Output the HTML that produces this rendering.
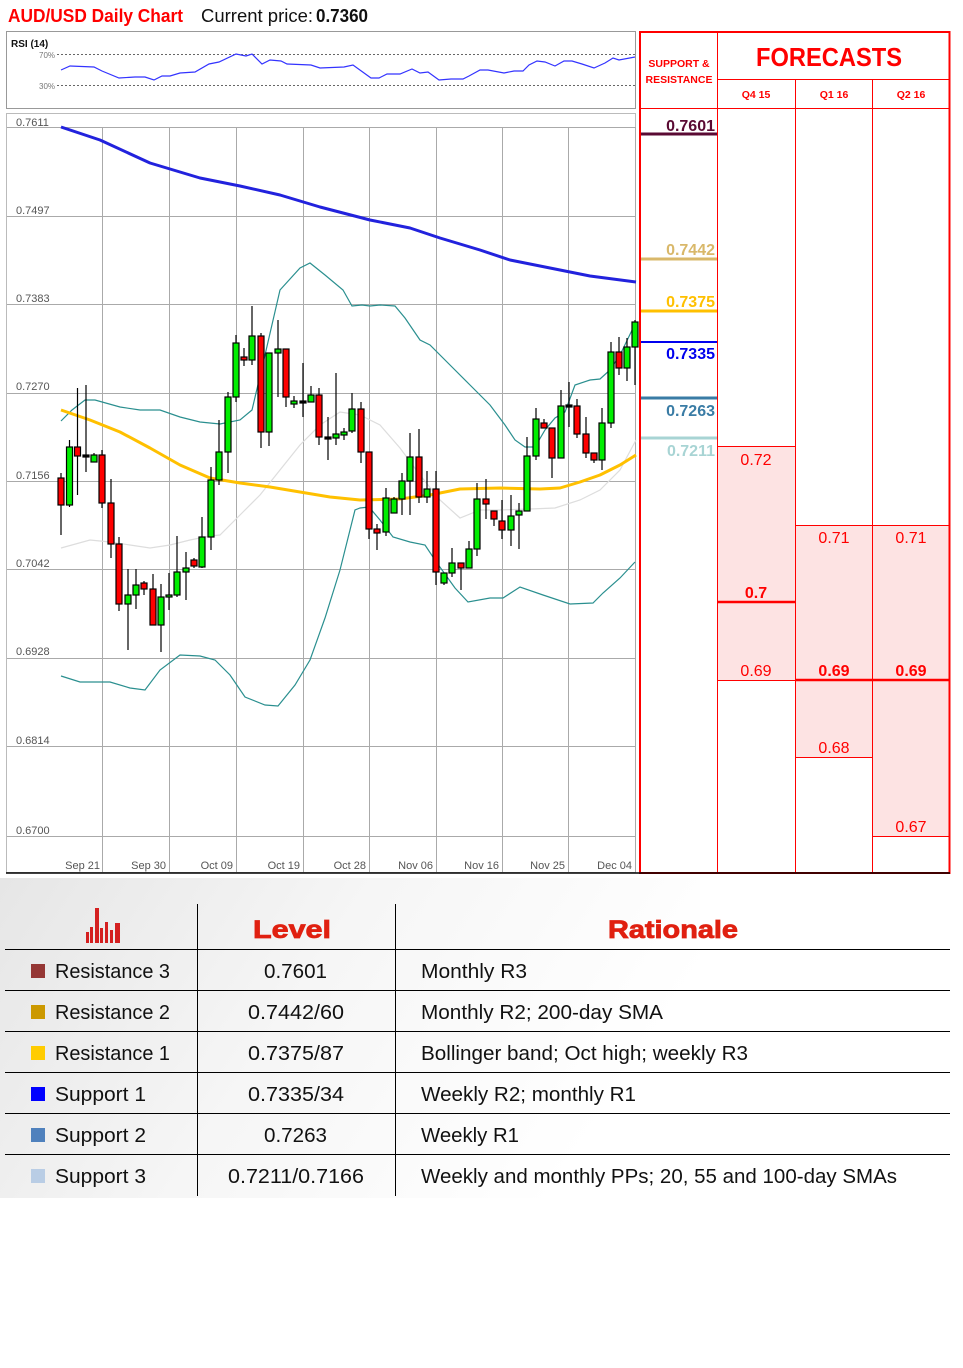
<!DOCTYPE html>
<html><head><meta charset="utf-8"><style>
html,body{margin:0;padding:0;background:#fff;width:963px;height:1368px;overflow:hidden}
svg{display:block}
text{font-family:"Liberation Sans",sans-serif}
</style></head><body>
<svg width="963" height="1368" viewBox="0 0 963 1368" xmlns="http://www.w3.org/2000/svg">
<defs>
<linearGradient id="bg" x1="0" y1="0" x2="1" y2="0.3">
<stop offset="0" stop-color="#e6e6e6"/><stop offset="0.5" stop-color="#f6f6f6"/><stop offset="1" stop-color="#ffffff"/>
</linearGradient>
</defs>
<!-- title -->
<text x="8" y="22" font-size="18" font-weight="bold" fill="#ff0000" textLength="175" lengthAdjust="spacingAndGlyphs">AUD/USD Daily Chart</text>
<text x="201" y="22" font-size="18" fill="#111" textLength="112" lengthAdjust="spacingAndGlyphs">Current price:</text>
<text x="316" y="22" font-size="18" font-weight="bold" fill="#111" textLength="52" lengthAdjust="spacingAndGlyphs">0.7360</text>

<!-- RSI box -->
<rect x="6.5" y="31.5" width="629" height="77" fill="#fff" stroke="#999"/>
<text x="11" y="47" font-size="10" font-weight="bold" fill="#111">RSI (14)</text>
<line x1="57" y1="54.5" x2="635" y2="54.5" stroke="#666" stroke-dasharray="2,2"/>
<line x1="57" y1="85.5" x2="635" y2="85.5" stroke="#666" stroke-dasharray="2,2"/>
<text x="39" y="58" font-size="8" fill="#777">70%</text>
<text x="39" y="89" font-size="8" fill="#777">30%</text>
<polyline fill="none" stroke="#3333ff" stroke-width="1.2" points="61,70 70,66 94,67 102,71 119,78 135,77 145,77 154,80 162,76 170,76 180,73 195,72 209,64 219,62 236,54 246,56 252,54 262,64 270,60 281,61 287,64 311,65 320,68 344,67 353,65 371,78 379,78 387,74 400,74 412,69 420,73 428,72 439,80 451,79 463,79 469,76 480,70 488,70 504,73 514,71 523,71 529,65 537,61 545,62 555,66 564,61 572,61 582,64 594,68 605,63 613,58 619,60 635,57"/>

<!-- price chart -->
<rect x="6.5" y="113.5" width="629" height="759" fill="#fff" stroke="#bbb"/>
<g stroke="#aaa" stroke-width="1">
<line x1="7" y1="127.5" x2="636" y2="127.5"/><line x1="7" y1="216.5" x2="636" y2="216.5"/>
<line x1="7" y1="304.5" x2="636" y2="304.5"/><line x1="7" y1="393.5" x2="636" y2="393.5"/>
<line x1="7" y1="481.5" x2="636" y2="481.5"/><line x1="7" y1="569.5" x2="636" y2="569.5"/>
<line x1="7" y1="658.5" x2="636" y2="658.5"/><line x1="7" y1="746.5" x2="636" y2="746.5"/>
<line x1="7" y1="836.5" x2="636" y2="836.5"/>
<line x1="102.5" y1="127" x2="102.5" y2="872"/><line x1="169.5" y1="127" x2="169.5" y2="872"/>
<line x1="236.5" y1="127" x2="236.5" y2="872"/><line x1="303.5" y1="127" x2="303.5" y2="872"/>
<line x1="369.5" y1="127" x2="369.5" y2="872"/><line x1="436.5" y1="127" x2="436.5" y2="872"/>
<line x1="502.5" y1="127" x2="502.5" y2="872"/><line x1="568.5" y1="127" x2="568.5" y2="872"/>
<line x1="635.5" y1="127" x2="635.5" y2="872"/>
</g>
<g font-size="11" fill="#555">
<text x="16" y="126">0.7611</text><text x="16" y="214">0.7497</text><text x="16" y="302">0.7383</text>
<text x="16" y="390">0.7270</text><text x="16" y="479">0.7156</text><text x="16" y="567">0.7042</text>
<text x="16" y="655">0.6928</text><text x="16" y="744">0.6814</text><text x="16" y="834">0.6700</text>
</g>
<g font-size="11" fill="#555" text-anchor="end">
<text x="100" y="869">Sep 21</text><text x="166" y="869">Sep 30</text><text x="233" y="869">Oct 09</text>
<text x="300" y="869">Oct 19</text><text x="366" y="869">Oct 28</text><text x="433" y="869">Nov 06</text>
<text x="499" y="869">Nov 16</text><text x="565" y="869">Nov 25</text><text x="632" y="869">Dec 04</text>
</g>

<!-- middle band -->
<polyline fill="none" stroke="#ddd" stroke-width="1.2" points="61,548 90,540 110,542 130,545 150,548 170,545 190,540 210,536 220,535 240,515 260,495 280,470 300,445 320,425 340,412 360,415 380,425 400,448 420,475 440,500 460,518 480,510 500,510 530,509 555,508 580,500 600,490 620,470 636,440"/>
<!-- bollinger upper -->
<polyline fill="none" stroke="#2a8f8f" stroke-width="1.2" points="61,421 72,410 85,400 95,400 120,407 140,410 160,410 180,417 200,422 220,424 240,420 252,410 265,355 280,290 300,268 310,263 325,275 343,290 352,306 362,305 370,306 380,305 395,306 405,318 420,340 430,345 450,365 470,385 490,405 505,425 515,440 525,447 535,447 545,430 555,418 565,412 575,385 590,380 600,379 610,370 620,355 636,322"/>
<!-- bollinger lower -->
<polyline fill="none" stroke="#2a8f8f" stroke-width="1.2" points="61,676 80,682 110,682 130,688 145,690 160,670 180,655 200,656 215,660 230,675 245,697 265,705 278,706 295,685 310,660 325,618 340,570 355,510 360,508 369,507 380,520 393,537 410,542 425,545 437,563 455,588 468,602 490,598 503,598 520,587 543,595 570,604 593,603 603,593 620,578 635,562"/>
<!-- yellow SMA -->
<polyline fill="none" stroke="#ffc000" stroke-width="3" stroke-linejoin="round" points="61,410 90,420 120,432 150,448 180,465 210,478 240,483 270,487 300,492 330,497 360,500 400,499 430,495 460,489 500,488 540,489 560,488 580,482 600,475 620,465 636,455"/>
<!-- blue 200 SMA -->
<polyline fill="none" stroke="#2222dd" stroke-width="3" stroke-linejoin="round" points="61,127 100,140 150,163 200,178 240,186 280,195 320,207 370,220 410,228 440,238 480,250 510,260 550,268 590,276 636,282"/>

<!-- candles -->
<g stroke="#000" stroke-width="1.2">
<line x1="61" y1="473" x2="61" y2="535"/><rect x="58" y="478" width="6" height="27" fill="#f00"/>
<line x1="69.5" y1="440" x2="69.5" y2="507"/><rect x="66.5" y="447" width="6" height="58" fill="#0e0"/>
<line x1="77.5" y1="388" x2="77.5" y2="495"/><rect x="74.5" y="447" width="6" height="9" fill="#f00"/>
<line x1="86" y1="385" x2="86" y2="472"/><rect x="83" y="455" width="6" height="2" fill="#000"/>
<line x1="94" y1="453" x2="94" y2="462"/><rect x="91" y="455" width="6" height="7" fill="#0e0"/>
<line x1="102" y1="450" x2="102" y2="508"/><rect x="99" y="455" width="6" height="48" fill="#f00"/>
<line x1="111" y1="479" x2="111" y2="558"/><rect x="108" y="503" width="6" height="41" fill="#f00"/>
<line x1="119" y1="537" x2="119" y2="611"/><rect x="116" y="544" width="6" height="60" fill="#f00"/>
<line x1="128" y1="569" x2="128" y2="650"/><rect x="125" y="595" width="6" height="9" fill="#0e0"/>
<line x1="136" y1="569" x2="136" y2="609"/><rect x="133" y="585" width="6" height="10" fill="#0e0"/>
<line x1="144" y1="581" x2="144" y2="595"/><rect x="141" y="583" width="6" height="6" fill="#f00"/>
<line x1="153" y1="574" x2="153" y2="625"/><rect x="150" y="589" width="6" height="36" fill="#f00"/>
<line x1="161" y1="584" x2="161" y2="652"/><rect x="158" y="597" width="6" height="28" fill="#0e0"/>
<line x1="169" y1="573" x2="169" y2="610"/><rect x="166" y="595" width="6" height="2" fill="#0e0"/>
<line x1="177" y1="536" x2="177" y2="597"/><rect x="174" y="572" width="6" height="23" fill="#0e0"/>
<line x1="186" y1="552" x2="186" y2="600"/><rect x="183" y="568" width="6" height="4" fill="#0e0"/>
<line x1="194" y1="558" x2="194" y2="568"/><rect x="191" y="560" width="6" height="6" fill="#f00"/>
<line x1="202" y1="517" x2="202" y2="568"/><rect x="199" y="537" width="6" height="30" fill="#0e0"/>
<line x1="211" y1="467" x2="211" y2="550"/><rect x="208" y="480" width="6" height="57" fill="#0e0"/>
<line x1="219" y1="420" x2="219" y2="485"/><rect x="216" y="452" width="6" height="28" fill="#0e0"/>
<line x1="228" y1="392" x2="228" y2="473"/><rect x="225" y="397" width="6" height="55" fill="#0e0"/>
<line x1="236" y1="335" x2="236" y2="402"/><rect x="233" y="343" width="6" height="54" fill="#0e0"/>
<line x1="244" y1="348" x2="244" y2="366"/><rect x="241" y="357" width="6" height="3" fill="#f00"/>
<line x1="252" y1="306" x2="252" y2="365"/><rect x="249" y="336" width="6" height="24" fill="#0e0"/>
<line x1="261" y1="333" x2="261" y2="448"/><rect x="258" y="336" width="6" height="96" fill="#f00"/>
<line x1="269" y1="353" x2="269" y2="446"/><rect x="266" y="353" width="6" height="79" fill="#0e0"/>
<line x1="278" y1="320" x2="278" y2="397"/><rect x="275" y="349" width="6" height="4" fill="#0e0"/>
<line x1="286" y1="349" x2="286" y2="407"/><rect x="283" y="349" width="6" height="48" fill="#f00"/>
<line x1="294" y1="396" x2="294" y2="408"/><rect x="291" y="401" width="6" height="3" fill="#0e0"/>
<line x1="303" y1="363" x2="303" y2="417"/><rect x="300" y="401" width="6" height="2" fill="#000"/>
<line x1="311" y1="386" x2="311" y2="402"/><rect x="308" y="395" width="6" height="7" fill="#0e0"/>
<line x1="319" y1="388" x2="319" y2="445"/><rect x="316" y="395" width="6" height="42" fill="#f00"/>
<line x1="328" y1="417" x2="328" y2="460"/><rect x="325" y="437" width="6" height="2" fill="#000"/>
<line x1="336" y1="373" x2="336" y2="445"/><rect x="333" y="434" width="6" height="4" fill="#0e0"/>
<line x1="344" y1="428" x2="344" y2="440"/><rect x="341" y="432" width="6" height="3" fill="#0e0"/>
<line x1="352" y1="393" x2="352" y2="433"/><rect x="349" y="409" width="6" height="22" fill="#0e0"/>
<line x1="361" y1="402" x2="361" y2="463"/><rect x="358" y="409" width="6" height="43" fill="#f00"/>
<line x1="369" y1="452" x2="369" y2="539"/><rect x="366" y="452" width="6" height="77" fill="#f00"/>
<line x1="377" y1="524" x2="377" y2="550"/><rect x="374" y="529" width="6" height="4" fill="#f00"/>
<line x1="386" y1="488" x2="386" y2="536"/><rect x="383" y="498" width="6" height="34" fill="#0e0"/>
<line x1="394" y1="497" x2="394" y2="513"/><rect x="391" y="499" width="6" height="14" fill="#0e0"/>
<line x1="402" y1="473" x2="402" y2="515"/><rect x="399" y="481" width="6" height="18" fill="#0e0"/>
<line x1="410" y1="433" x2="410" y2="515"/><rect x="407" y="457" width="6" height="24" fill="#0e0"/>
<line x1="419" y1="429" x2="419" y2="503"/><rect x="416" y="457" width="6" height="40" fill="#f00"/>
<line x1="427" y1="471" x2="427" y2="503"/><rect x="424" y="489" width="6" height="8" fill="#0e0"/>
<line x1="436" y1="471" x2="436" y2="585"/><rect x="433" y="489" width="6" height="83" fill="#f00"/>
<line x1="444" y1="573" x2="444" y2="585"/><rect x="441" y="573" width="6" height="10" fill="#0e0"/>
<line x1="452" y1="548" x2="452" y2="577"/><rect x="449" y="563" width="6" height="10" fill="#0e0"/>
<line x1="461" y1="563" x2="461" y2="590"/><rect x="458" y="563" width="6" height="5" fill="#f00"/>
<line x1="469" y1="541" x2="469" y2="568"/><rect x="466" y="549" width="6" height="19" fill="#0e0"/>
<line x1="477" y1="483" x2="477" y2="556"/><rect x="474" y="499" width="6" height="50" fill="#0e0"/>
<line x1="486" y1="479" x2="486" y2="519"/><rect x="483" y="499" width="6" height="5" fill="#f00"/>
<line x1="494" y1="511" x2="494" y2="526"/><rect x="491" y="511" width="6" height="8" fill="#f00"/>
<line x1="502" y1="500" x2="502" y2="539"/><rect x="499" y="521" width="6" height="9" fill="#f00"/>
<line x1="511" y1="495" x2="511" y2="546"/><rect x="508" y="516" width="6" height="14" fill="#0e0"/>
<line x1="519" y1="503" x2="519" y2="549"/><rect x="516" y="511" width="6" height="4" fill="#0e0"/>
<line x1="527" y1="437" x2="527" y2="511"/><rect x="524" y="456" width="6" height="55" fill="#0e0"/>
<line x1="536" y1="408" x2="536" y2="460"/><rect x="533" y="419" width="6" height="37" fill="#0e0"/>
<line x1="544" y1="419" x2="544" y2="428"/><rect x="541" y="423" width="6" height="5" fill="#f00"/>
<line x1="552" y1="428" x2="552" y2="478"/><rect x="549" y="428" width="6" height="30" fill="#f00"/>
<line x1="561" y1="390" x2="561" y2="458"/><rect x="558" y="406" width="6" height="52" fill="#0e0"/>
<line x1="569" y1="382" x2="569" y2="427"/><rect x="566" y="405" width="6" height="2" fill="#000"/>
<line x1="577" y1="399" x2="577" y2="438"/><rect x="574" y="406" width="6" height="28" fill="#f00"/>
<line x1="586" y1="417" x2="586" y2="458"/><rect x="583" y="434" width="6" height="19" fill="#f00"/>
<line x1="594" y1="453" x2="594" y2="463"/><rect x="591" y="453" width="6" height="7" fill="#f00"/>
<line x1="602" y1="408" x2="602" y2="470"/><rect x="599" y="423" width="6" height="37" fill="#0e0"/>
<line x1="611" y1="342" x2="611" y2="428"/><rect x="608" y="352" width="6" height="71" fill="#0e0"/>
<line x1="619" y1="337" x2="619" y2="375"/><rect x="616" y="352" width="6" height="16" fill="#f00"/>
<line x1="627" y1="338" x2="627" y2="381"/><rect x="624" y="347" width="6" height="21" fill="#0e0"/>
<line x1="635" y1="320" x2="635" y2="385"/><rect x="632" y="322" width="6" height="25" fill="#0e0"/>
</g>

<!-- right forecast panel -->
<rect x="718" y="446" width="77" height="234" fill="#fde3e3"/>
<rect x="795" y="525" width="77" height="232" fill="#fde3e3"/>
<rect x="872" y="525" width="78" height="311" fill="#fde3e3"/>
<g stroke="#ff0000" stroke-width="1" fill="none">
<line x1="717.5" y1="31" x2="717.5" y2="873"/>
<line x1="795.5" y1="79" x2="795.5" y2="873"/>
<line x1="872.5" y1="79" x2="872.5" y2="873"/>
<line x1="718" y1="79.5" x2="950" y2="79.5"/>
<line x1="639" y1="108.5" x2="950" y2="108.5"/>
<line x1="718" y1="446.5" x2="795" y2="446.5"/>
<line x1="795" y1="525.5" x2="950" y2="525.5"/>
<line x1="718" y1="680.5" x2="795" y2="680.5"/>
<line x1="795" y1="757.5" x2="872" y2="757.5"/>
<line x1="872" y1="836.5" x2="950" y2="836.5"/>
</g>
<line x1="718" y1="602" x2="795" y2="602" stroke="#ff0000" stroke-width="2.5"/>
<line x1="795" y1="680" x2="950" y2="680" stroke="#ff0000" stroke-width="2.5"/>
<rect x="640" y="32" width="309.5" height="841" fill="none" stroke="#ff0000" stroke-width="2"/>
<text x="679" y="67" font-size="10.5" font-weight="bold" fill="#ff0000" text-anchor="middle">SUPPORT &amp;</text>
<text x="679" y="83" font-size="10.5" font-weight="bold" fill="#ff0000" text-anchor="middle">RESISTANCE</text>
<text x="829" y="66" font-size="26" font-weight="bold" fill="#ff0000" text-anchor="middle" textLength="146" lengthAdjust="spacingAndGlyphs">FORECASTS</text>
<g font-size="10.5" font-weight="bold" fill="#ff0000" text-anchor="middle">
<text x="756" y="98">Q4 15</text><text x="834" y="98">Q1 16</text><text x="911" y="98">Q2 16</text>
</g>
<g font-size="16" font-weight="bold" text-anchor="end">
<text x="715" y="131" fill="#5a0a33">0.7601</text>
<text x="715" y="255" fill="#d9b86a">0.7442</text>
<text x="715" y="307" fill="#ffc000">0.7375</text>
<text x="715" y="359" fill="#0000ee">0.7335</text>
<text x="715" y="416" fill="#3a7ca5">0.7263</text>
<text x="715" y="456" fill="#a8d4d4">0.7211</text>
</g>
<line x1="641" y1="134" x2="717" y2="134" stroke="#5a0a33" stroke-width="3"/>
<line x1="641" y1="259" x2="717" y2="259" stroke="#d9b86a" stroke-width="3"/>
<line x1="641" y1="311" x2="717" y2="311" stroke="#ffc000" stroke-width="3"/>
<line x1="641" y1="342" x2="717" y2="342" stroke="#0000ee" stroke-width="2"/>
<line x1="641" y1="398" x2="717" y2="398" stroke="#3a7ca5" stroke-width="3"/>
<line x1="641" y1="438" x2="717" y2="438" stroke="#a8d4d4" stroke-width="3"/>
<g font-size="16" fill="#ff0000" text-anchor="middle">
<text x="756" y="465">0.72</text>
<text x="756" y="598" font-weight="bold">0.7</text>
<text x="756" y="676">0.69</text>
<text x="834" y="543">0.71</text>
<text x="834" y="676" font-weight="bold">0.69</text>
<text x="834" y="753">0.68</text>
<text x="911" y="543">0.71</text>
<text x="911" y="676" font-weight="bold">0.69</text>
<text x="911" y="832">0.67</text>
</g>
<line x1="6" y1="873" x2="950" y2="873" stroke="#000" stroke-width="1.5"/>

<!-- table -->
<rect x="0" y="878" width="700" height="320" fill="url(#bg)"/>
<g fill="#d42020">
<rect x="86" y="932" width="3" height="11"/><rect x="90" y="927" width="3" height="16"/>
<rect x="95" y="908" width="4" height="35"/><rect x="100" y="928" width="3" height="15"/>
<rect x="105" y="922" width="3" height="21"/><rect x="110" y="930" width="3" height="13"/>
<rect x="115" y="923" width="5" height="20"/>
</g>
<text x="292" y="938" font-size="25" font-weight="900" fill="#e02010" stroke="#e02010" stroke-width="0.8" text-anchor="middle" textLength="78" lengthAdjust="spacingAndGlyphs">Level</text>
<text x="673" y="938" font-size="25" font-weight="900" fill="#e02010" stroke="#e02010" stroke-width="0.8" text-anchor="middle" textLength="130" lengthAdjust="spacingAndGlyphs">Rationale</text>
<g stroke="#000" stroke-width="1">
<line x1="197.5" y1="904" x2="197.5" y2="1196"/><line x1="395.5" y1="904" x2="395.5" y2="1196"/>
<line x1="5" y1="949.5" x2="950" y2="949.5"/><line x1="5" y1="990.5" x2="950" y2="990.5"/>
<line x1="5" y1="1031.5" x2="950" y2="1031.5"/><line x1="5" y1="1072.5" x2="950" y2="1072.5"/>
<line x1="5" y1="1113.5" x2="950" y2="1113.5"/><line x1="5" y1="1154.5" x2="950" y2="1154.5"/>
</g>
<rect x="31" y="964" width="14" height="14" fill="#953735"/>
<rect x="31" y="1005" width="14" height="14" fill="#cc9900"/>
<rect x="31" y="1046" width="14" height="14" fill="#ffcc00"/>
<rect x="31" y="1087" width="14" height="14" fill="#0000ff"/>
<rect x="31" y="1128" width="14" height="14" fill="#4f81bd"/>
<rect x="31" y="1169" width="14" height="14" fill="#b9cde5"/>
<g font-size="20" fill="#111">
<text x="55" y="978" textLength="115" lengthAdjust="spacingAndGlyphs">Resistance 3</text>
<text x="55" y="1019" textLength="115" lengthAdjust="spacingAndGlyphs">Resistance 2</text>
<text x="55" y="1060" textLength="115" lengthAdjust="spacingAndGlyphs">Resistance 1</text>
<text x="55" y="1101" textLength="91" lengthAdjust="spacingAndGlyphs">Support 1</text>
<text x="55" y="1142" textLength="91" lengthAdjust="spacingAndGlyphs">Support 2</text>
<text x="55" y="1183" textLength="91" lengthAdjust="spacingAndGlyphs">Support 3</text>
<text x="264" y="978" textLength="63" lengthAdjust="spacingAndGlyphs">0.7601</text>
<text x="248" y="1019" textLength="96" lengthAdjust="spacingAndGlyphs">0.7442/60</text>
<text x="248" y="1060" textLength="96" lengthAdjust="spacingAndGlyphs">0.7375/87</text>
<text x="248" y="1101" textLength="96" lengthAdjust="spacingAndGlyphs">0.7335/34</text>
<text x="264" y="1142" textLength="63" lengthAdjust="spacingAndGlyphs">0.7263</text>
<text x="228" y="1183" textLength="136" lengthAdjust="spacingAndGlyphs">0.7211/0.7166</text>
<text x="421" y="978" textLength="106" lengthAdjust="spacingAndGlyphs">Monthly R3</text>
<text x="421" y="1019" textLength="242" lengthAdjust="spacingAndGlyphs">Monthly R2; 200-day SMA</text>
<text x="421" y="1060" textLength="327" lengthAdjust="spacingAndGlyphs">Bollinger band; Oct high; weekly R3</text>
<text x="421" y="1101" textLength="215" lengthAdjust="spacingAndGlyphs">Weekly R2; monthly R1</text>
<text x="421" y="1142" textLength="98" lengthAdjust="spacingAndGlyphs">Weekly R1</text>
<text x="421" y="1183" textLength="476" lengthAdjust="spacingAndGlyphs">Weekly and monthly PPs; 20, 55 and 100-day SMAs</text>
</g>
</svg>
</body></html>
